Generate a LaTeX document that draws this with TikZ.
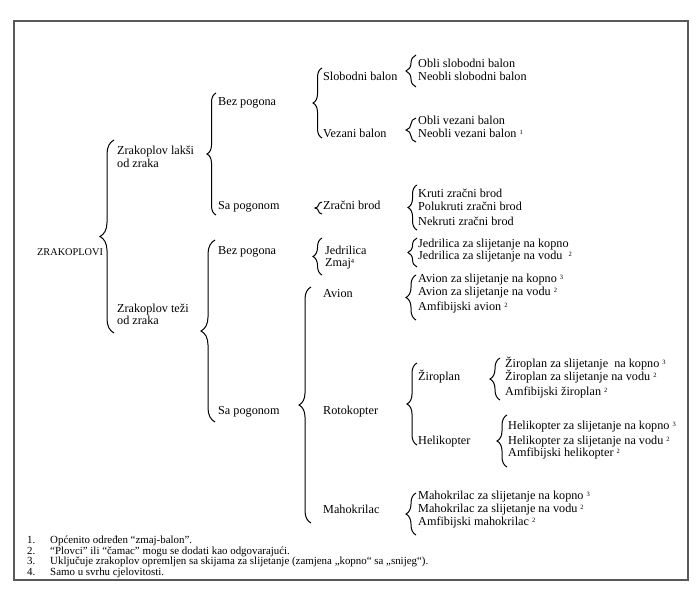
\documentclass[tikz,border=0pt]{standalone}
\usepackage{fontspec}
\setmainfont{Liberation Serif}
\usetikzlibrary{decorations.pathreplacing}
\newcommand\sps[1]{{\fontsize{6.5}{6.5}\selectfont\raisebox{0.85ex}{#1}}}
\newcommand\bracedraw[5]{%
  \coordinate (#1b) at (#2,#4);
  \coordinate (#1t) at (#2,#3);
  \draw[brc, decoration={brace, amplitude=#5pt}] (#1b) -- (#1t);}
\begin{document}
\begin{tikzpicture}[x=1pt,y=-1pt,
  lbl/.style={anchor=west, inner sep=0pt, font=\fontsize{12.2}{13}\selectfont, text height=7.5pt, text depth=2.5pt},
  lbl2/.style={anchor=west, inner sep=0pt, align=left, font=\fontsize{12.2}{12.5}\selectfont},
  root/.style={anchor=west, inner sep=0pt, font=\fontsize{10.3}{12}\selectfont, text height=7pt, text depth=0pt},
  fnum/.style={anchor=west, inner sep=0pt, font=\fontsize{10.9}{11}\selectfont, text height=7pt, text depth=2pt},
  brc/.style={decorate, line width=1pt, black},
  frame/.style={draw=black!65, line width=1.3pt}]
\useasboundingbox (0,0) rectangle (700,599);
\draw[frame] (14,21) rectangle (688,580);

% level 0
\node[root] (zr) at (37,252) {ZRAKOPLOVI};
% level 1
\node[lbl2] (laksi) at (117,157) {Zrakoplov lakši\\od zraka};
\node[lbl2] (tezi) at (117,314.5) {Zrakoplov teži\\od zraka};
% level 2
\node[lbl] (bp1) at (218,103) {Bez pogona};
\node[lbl] (sp1) at (218,207) {Sa pogonom};
\node[lbl] (bp2) at (218,252) {Bez pogona};
\node[lbl] (sp2) at (218,412) {Sa pogonom};
% level 3
\node[lbl] (slob) at (323,78) {Slobodni balon};
\node[lbl] (vez) at (323,135) {Vezani balon};
\node[lbl] (zbrod) at (323,207) {Zračni brod};
\node[lbl] (jedr) at (325,252) {Jedrilica};
\node[lbl] (zmaj) at (325,264) {Zmaj\sps{4}};
\node[lbl] (avion) at (323,295) {Avion};
\node[lbl] (roto) at (323,412) {Rotokopter};
\node[lbl] (maho) at (323,511) {Mahokrilac};
% level 4
\node[lbl] (s1) at (418,65) {Obli slobodni balon};
\node[lbl] (s2) at (418,78) {Neobli slobodni balon};
\node[lbl] (v1) at (418,122) {Obli vezani balon};
\node[lbl] (v2) at (418,135) {Neobli vezani balon \sps{1}};
\node[lbl] (z1) at (418,195) {Kruti zračni brod};
\node[lbl] (z2) at (418,208) {Polukruti zračni brod};
\node[lbl] (z3) at (418,223) {Nekruti zračni brod};
\node[lbl] (j1) at (418,245) {Jedrilica za slijetanje na kopno};
\node[lbl] (j2) at (418,257) {Jedrilica za slijetanje na vodu \ \sps{2}};
\node[lbl] (a1) at (418,280) {Avion za slijetanje na kopno \sps{3}};
\node[lbl] (a2) at (418,293) {Avion za slijetanje na vodu \sps{2}};
\node[lbl] (a3) at (418,308) {Amfibijski avion \sps{2}};
\node[lbl] (ziro) at (418,378) {Žiroplan};
\node[lbl] (heli) at (418,442) {Helikopter};
\node[lbl] (m1) at (418,497) {Mahokrilac za slijetanje na kopno \sps{3}};
\node[lbl] (m2) at (418,510) {Mahokrilac za slijetanje na vodu \sps{2}};
\node[lbl] (m3) at (418,523) {Amfibijski mahokrilac \sps{2}};
% level 5
\node[lbl] (zi1) at (505,365) {Žiroplan za slijetanje \ na kopno \sps{3}};
\node[lbl] (zi2) at (505,378) {Žiroplan za slijetanje na vodu \sps{2}};
\node[lbl] (zi3) at (505,393) {Amfibijski žiroplan \sps{2}};
\node[lbl] (h1) at (508,427) {Helikopter za slijetanje na kopno \sps{3}};
\node[lbl] (h2) at (508,442) {Helikopter za slijetanje na vodu \sps{2}};
\node[lbl] (h3) at (508,454) {Amfibijski helikopter \sps{2}};

% braces
\bracedraw{B1}{114}{140}{333}{14}
\bracedraw{B2}{216}{93}{215}{9}
\bracedraw{B3}{215}{240}{422}{14}
\bracedraw{B4}{322}{68}{138}{9}
\bracedraw{B5}{322}{202}{214}{7}
\bracedraw{B6}{322}{238}{275}{9}
\bracedraw{B7}{311}{287}{523}{12}
\bracedraw{B8}{416}{55}{87}{10}
\bracedraw{B9}{416}{118}{142}{10}
\bracedraw{B10}{417}{185}{230}{9}
\bracedraw{B11}{417}{238}{267}{9}
\bracedraw{B12}{416}{275}{320}{10}
\bracedraw{B13}{417}{363}{445}{10}
\bracedraw{B14}{500}{358}{400}{10}
\bracedraw{B15}{507}{415}{467}{10}
\bracedraw{B16}{416}{493}{535}{10}

% footnotes
\node[fnum] (n1) at (27,541) {1.};
\node[fnum] (n2) at (27,551.5) {2.};
\node[fnum] (n3) at (27,562) {3.};
\node[fnum] (n4) at (27,573) {4.};
\node[fnum] (f1) at (50,541) {Općenito određen “zmaj-balon”.};
\node[fnum] (f2) at (50,551.5) {“Plovci” ili “čamac” mogu se dodati kao odgovarajući.};
\node[fnum] (f3) at (50,562) {Uključuje zrakoplov opremljen sa skijama za slijetanje (zamjena „kopno“ sa „snijeg“).};
\node[fnum] (f4) at (50,573) {Samo u svrhu cjelovitosti.};
\end{tikzpicture}
\end{document}
